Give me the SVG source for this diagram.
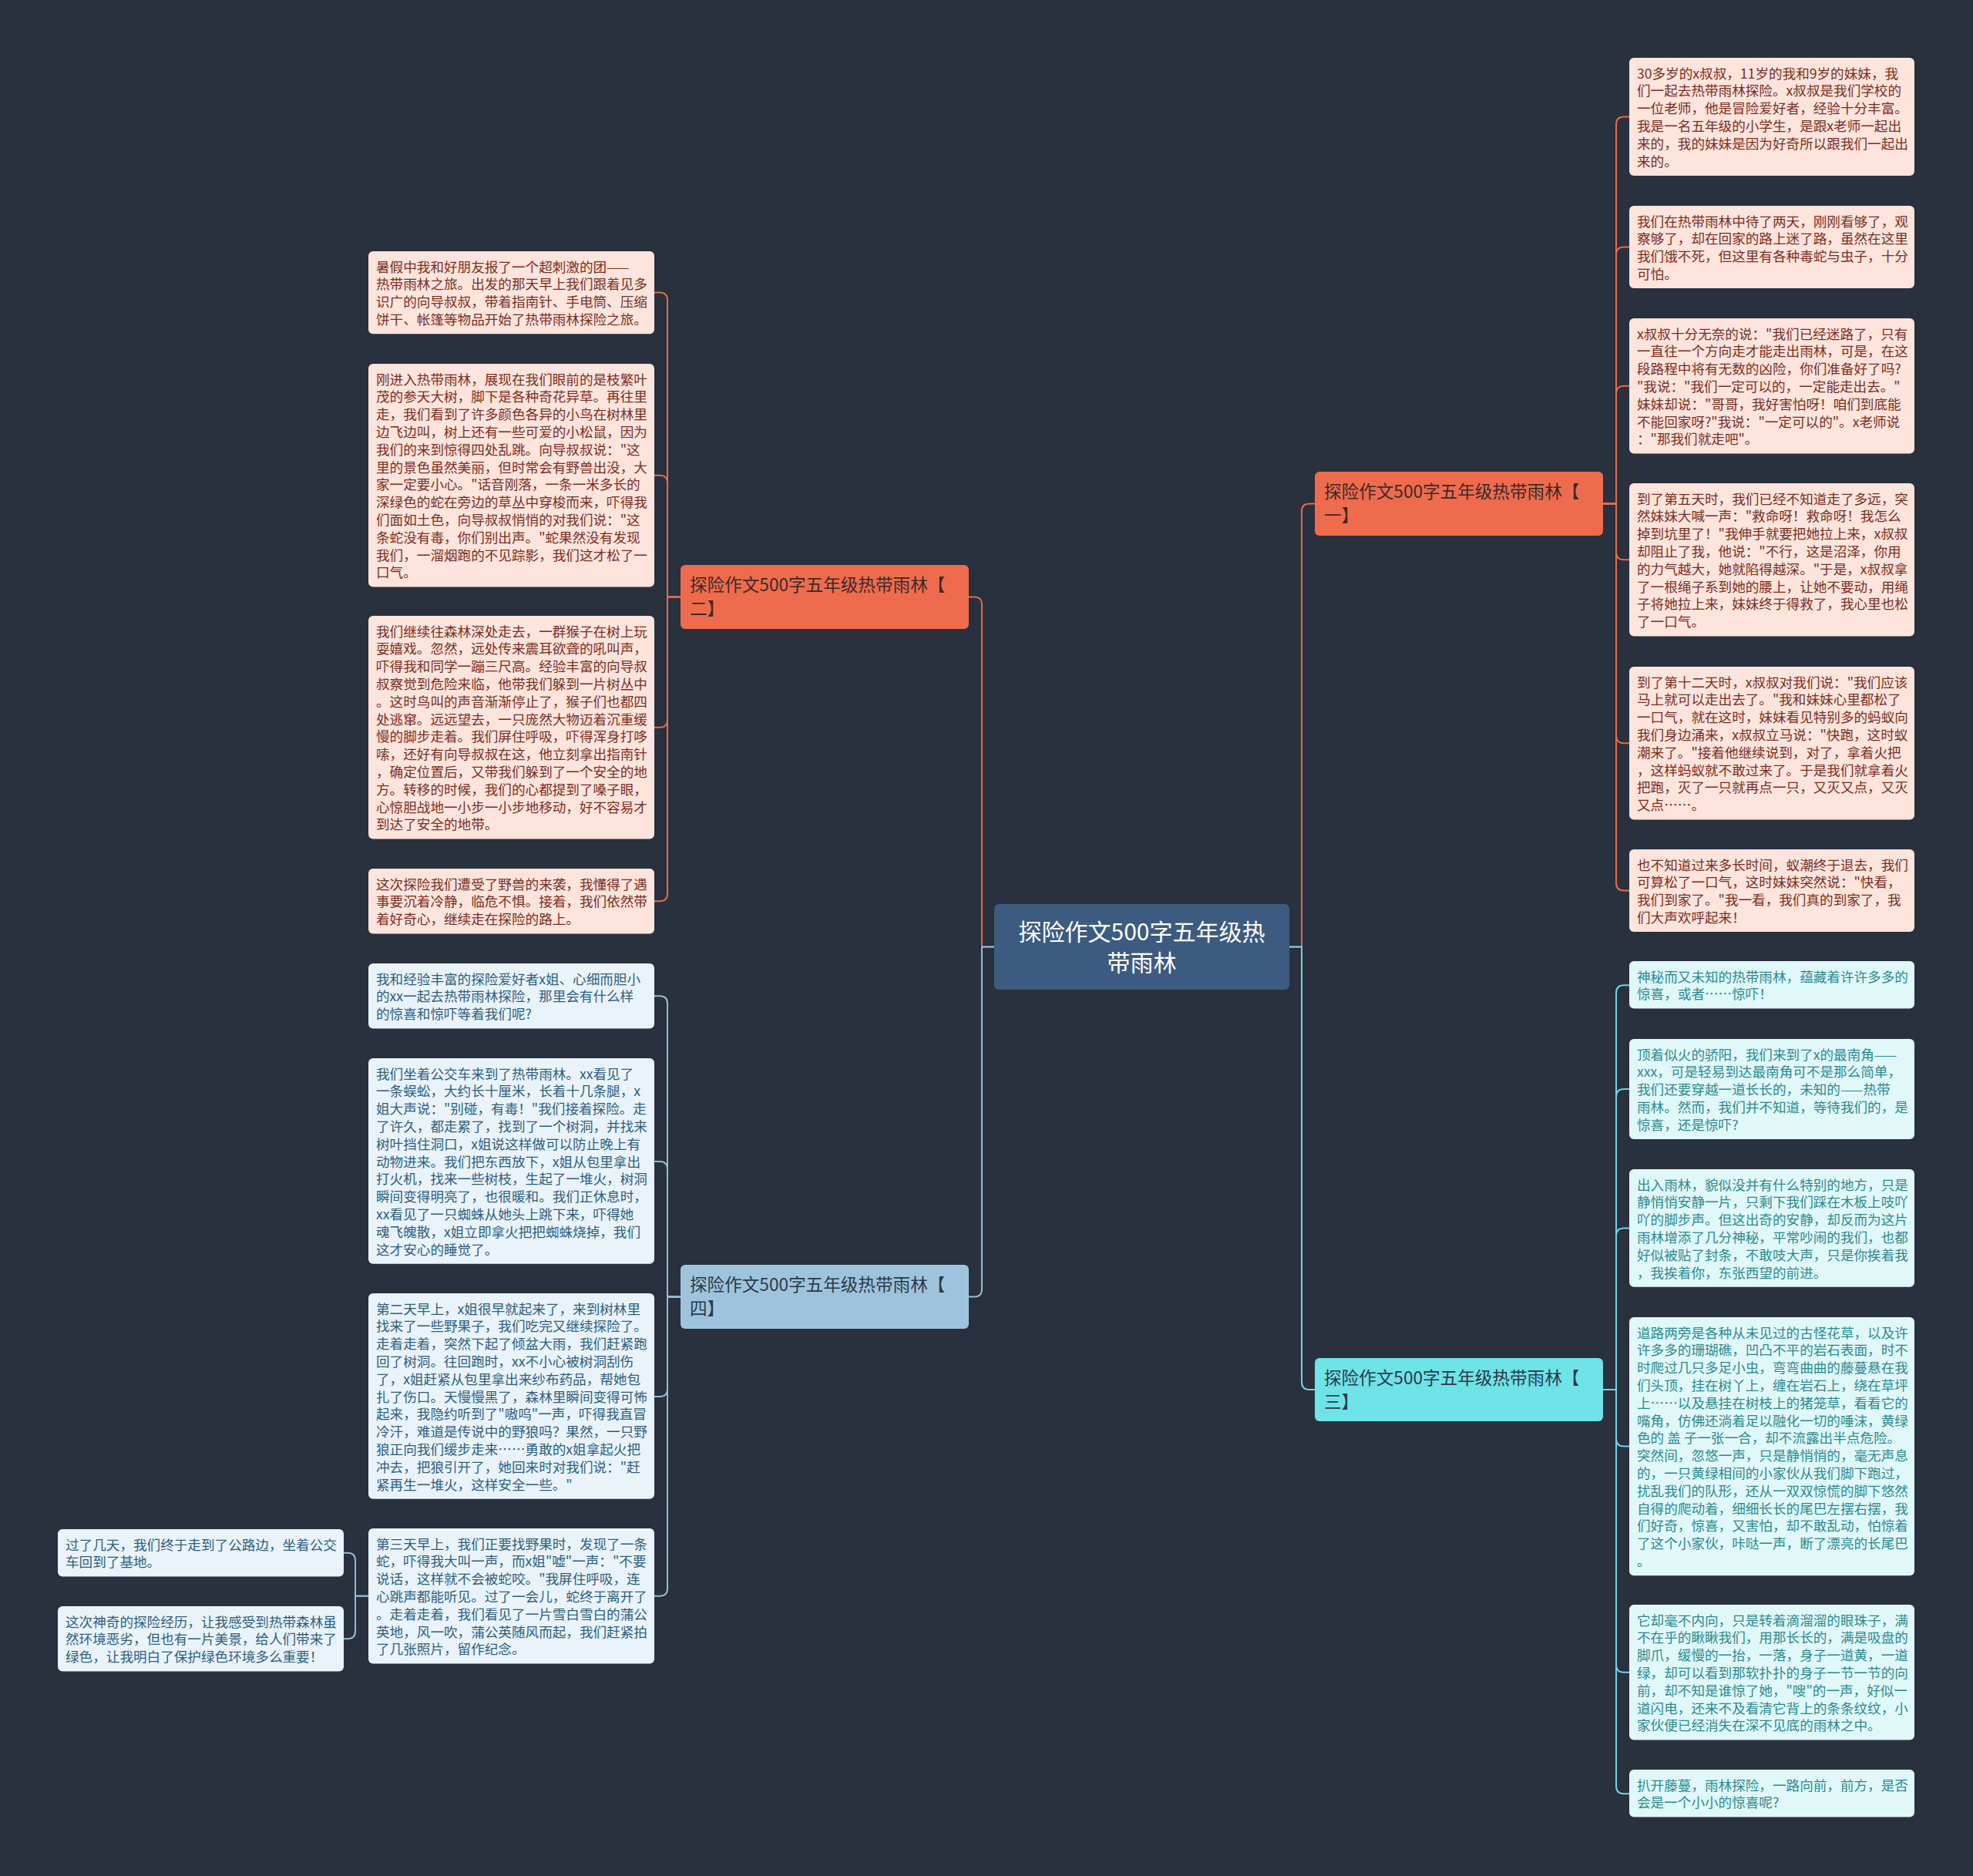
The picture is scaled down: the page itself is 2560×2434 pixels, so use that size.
<svg xmlns="http://www.w3.org/2000/svg" width="2560" height="2434" viewBox="0 0 2560 2434">
<style>
text{font-family:"Noto Sans CJK SC","Noto Sans",sans-serif}
.lt{font-size:17.6px}
.rl rect{fill:#fde4dc}
.rl text{fill:#7a2e22}
.cl rect{fill:#e1f8f9}
.cl text{fill:#2a8a8f}
.bl rect{fill:#e9f3f9}
.bl text{fill:#2d5f7f}
.br text{font-size:22.6px}
.c path{fill:none;stroke-width:2}
.co path{stroke:#e8694b}
.cc path{stroke:#6dd6df}
.cb path{stroke:#93bcd6}
</style>
<rect width="2560" height="2434" fill="#29303e"/>
<g id="connectors" class="c">
<g class="co">
<path d="M1290 1228.5H1274V784.5Q1274 774.5 1264 774.5H1257"/>
<path d="M1673 1228.5H1689V663.5Q1689 653.5 1699 653.5H1706"/>
<path d="M2080 653.5H2097V161.5Q2097 151.5 2107 151.5H2114"/>
<path d="M2080 653.5H2097V330.5Q2097 320.5 2107 320.5H2114"/>
<path d="M2080 653.5H2097V510.8Q2097 500.8 2107 500.8H2114"/>
<path d="M2080 653.5H2097V716.2Q2097 726.2 2107 726.2H2114"/>
<path d="M2080 653.5H2097V954.2Q2097 964.2 2107 964.2H2114"/>
<path d="M2080 653.5H2097V1145.5Q2097 1155.5 2107 1155.5H2114"/>
<path d="M883 774.5H866V389.5Q866 379.5 856 379.5H849"/>
<path d="M883 774.5H866V626.8Q866 616.8 856 616.8H849"/>
<path d="M883 774.5H866V933.8Q866 943.8 856 943.8H849"/>
<path d="M883 774.5H866V1159.2Q866 1169.2 856 1169.2H849"/>
</g>
<g class="cc">
<path d="M1673 1228.5H1689V1793Q1689 1803 1699 1803H1706"/>
<path d="M2080 1803H2097V1288.3Q2097 1278.3 2107 1278.3H2114"/>
<path d="M2080 1803H2097V1423Q2097 1413 2107 1413H2114"/>
<path d="M2080 1803H2097V1603.4Q2097 1593.4 2107 1593.4H2114"/>
<path d="M2080 1803H2097V1866.6Q2097 1876.6 2107 1876.6H2114"/>
<path d="M2080 1803H2097V2159.8Q2097 2169.8 2107 2169.8H2114"/>
<path d="M2080 1803H2097V2317.3Q2097 2327.3 2107 2327.3H2114"/>
</g>
<g class="cb">
<path d="M1290 1228.5H1274V1672.5Q1274 1682.5 1264 1682.5H1257"/>
<path d="M883 1682.5H866V1302.2Q866 1292.2 856 1292.2H849"/>
<path d="M883 1682.5H866V1516.9Q866 1506.9 856 1506.9H849"/>
<path d="M883 1682.5H866V1801.9Q866 1811.9 856 1811.9H849"/>
<path d="M883 1682.5H866V2060.8Q866 2070.8 856 2070.8H849"/>
<path d="M478 2070.8H461V2024.8Q461 2014.8 451 2014.8H446"/>
<path d="M478 2070.8H461V2116.2Q461 2126.2 451 2126.2H446"/>
</g>
</g>

<g id="root">
<rect x="1290" y="1173" width="383" height="111" rx="6" fill="#3d5b80"/>
<text x="1481.5" y="1220" font-size="30" fill="#ffffff" text-anchor="middle">探险作文500字五年级热<tspan x="1481.5" dy="40">带雨林</tspan></text>
</g>

<g id="branch1" class="br">
<rect x="1706" y="612" width="374" height="83" rx="6" fill="#ef6b4d"/>
<text x="1718" y="646" fill="#3b2a28">探险作文500字五年级热带雨林【<tspan x="1718" dy="31">一】</tspan></text>
</g>
<g id="branch2" class="br">
<rect x="883" y="733" width="374" height="83" rx="6" fill="#ef6b4d"/>
<text x="895" y="767" fill="#3b2a28">探险作文500字五年级热带雨林【<tspan x="895" dy="31">二】</tspan></text>
</g>
<g id="branch3" class="br">
<rect x="1706" y="1762" width="374" height="82" rx="6" fill="#6ee3e8"/>
<text x="1718" y="1796" fill="#2b3a48">探险作文500字五年级热带雨林【<tspan x="1718" dy="31">三】</tspan></text>
</g>
<g id="branch4" class="br">
<rect x="883" y="1641" width="374" height="83" rx="6" fill="#9ec4dd"/>
<text x="895" y="1675" fill="#2b3a48">探险作文500字五年级热带雨林【<tspan x="895" dy="31">四】</tspan></text>
</g>

<g id="r1" class="rl">
<rect x="2114" y="75" width="370" height="153" rx="6"/>
<text class="lt" x="2124" y="101.5">30多岁的x叔叔，11岁的我和9岁的妹妹，我<tspan x="2124" dy="22.8">们一起去热带雨林探险。x叔叔是我们学校的</tspan><tspan x="2124" dy="22.8">一位老师，他是冒险爱好者，经验十分丰富。</tspan><tspan x="2124" dy="22.8">我是一名五年级的小学生，是跟x老师一起出</tspan><tspan x="2124" dy="22.8">来的，我的妹妹是因为好奇所以跟我们一起出</tspan><tspan x="2124" dy="22.8">来的。</tspan></text>
</g>
<g id="r2" class="rl">
<rect x="2114" y="267" width="370" height="107" rx="6"/>
<text class="lt" x="2124" y="293.5">我们在热带雨林中待了两天，刚刚看够了，观<tspan x="2124" dy="22.8">察够了，却在回家的路上迷了路，虽然在这里</tspan><tspan x="2124" dy="22.8">我们饿不死，但这里有各种毒蛇与虫子，十分</tspan><tspan x="2124" dy="22.8">可怕。</tspan></text>
</g>
<g id="r3" class="rl">
<rect x="2114" y="413" width="370" height="175.6" rx="6"/>
<text class="lt" x="2124" y="439.5">x叔叔十分无奈的说："我们已经迷路了，只有<tspan x="2124" dy="22.8">一直往一个方向走才能走出雨林，可是，在这</tspan><tspan x="2124" dy="22.8">段路程中将有无数的凶险，你们准备好了吗?</tspan><tspan x="2124" dy="22.8">"我说："我们一定可以的，一定能走出去。"</tspan><tspan x="2124" dy="22.8">妹妹却说："哥哥，我好害怕呀！咱们到底能</tspan><tspan x="2124" dy="22.8">不能回家呀?"我说："一定可以的"。x老师说</tspan><tspan x="2124" dy="22.8">："那我们就走吧"。</tspan></text>
</g>
<g id="r4" class="rl">
<rect x="2114" y="627" width="370" height="198.4" rx="6"/>
<text class="lt" x="2124" y="653.5">到了第五天时，我们已经不知道走了多远，突<tspan x="2124" dy="22.8">然妹妹大喊一声："救命呀！救命呀！我怎么</tspan><tspan x="2124" dy="22.8">掉到坑里了！"我伸手就要把她拉上来，x叔叔</tspan><tspan x="2124" dy="22.8">却阻止了我，他说："不行，这是沼泽，你用</tspan><tspan x="2124" dy="22.8">的力气越大，她就陷得越深。"于是，x叔叔拿</tspan><tspan x="2124" dy="22.8">了一根绳子系到她的腰上，让她不要动，用绳</tspan><tspan x="2124" dy="22.8">子将她拉上来，妹妹终于得救了，我心里也松</tspan><tspan x="2124" dy="22.8">了一口气。</tspan></text>
</g>
<g id="r5" class="rl">
<rect x="2114" y="865" width="370" height="198.4" rx="6"/>
<text class="lt" x="2124" y="891.5">到了第十二天时，x叔叔对我们说："我们应该<tspan x="2124" dy="22.8">马上就可以走出去了。"我和妹妹心里都松了</tspan><tspan x="2124" dy="22.8">一口气，就在这时，妹妹看见特别多的蚂蚁向</tspan><tspan x="2124" dy="22.8">我们身边涌来，x叔叔立马说："快跑，这时蚁</tspan><tspan x="2124" dy="22.8">潮来了。"接着他继续说到，对了，拿着火把</tspan><tspan x="2124" dy="22.8">，这样蚂蚁就不敢过来了。于是我们就拿着火</tspan><tspan x="2124" dy="22.8">把跑，灭了一只就再点一只，又灭又点，又灭</tspan><tspan x="2124" dy="22.8">又点……。</tspan></text>
</g>
<g id="r6" class="rl">
<rect x="2114" y="1102" width="370" height="107" rx="6"/>
<text class="lt" x="2124" y="1128.5">也不知道过来多长时间，蚁潮终于退去，我们<tspan x="2124" dy="22.8">可算松了一口气，这时妹妹突然说："快看，</tspan><tspan x="2124" dy="22.8">我们到家了。"我一看，我们真的到家了，我</tspan><tspan x="2124" dy="22.8">们大声欢呼起来！</tspan></text>
</g>

<g id="c1" class="cl">
<rect x="2114" y="1247" width="370" height="61.6" rx="6"/>
<text class="lt" x="2124" y="1273.5">神秘而又未知的热带雨林，蕴藏着许许多多的<tspan x="2124" dy="22.8">惊喜，或者……惊吓！</tspan></text>
</g>
<g id="c2" class="cl">
<rect x="2114" y="1348" width="370" height="130" rx="6"/>
<text class="lt" x="2124" y="1374.5">顶着似火的骄阳，我们来到了x的最南角——<tspan x="2124" dy="22.8">xxx，可是轻易到达最南角可不是那么简单，</tspan><tspan x="2124" dy="22.8">我们还要穿越一道长长的，未知的——热带</tspan><tspan x="2124" dy="22.8">雨林。然而，我们并不知道，等待我们的，是</tspan><tspan x="2124" dy="22.8">惊喜，还是惊吓?</tspan></text>
</g>
<g id="c3" class="cl">
<rect x="2114" y="1517" width="370" height="152.8" rx="6"/>
<text class="lt" x="2124" y="1543.5">出入雨林，貌似没并有什么特别的地方，只是<tspan x="2124" dy="22.8">静悄悄安静一片，只剩下我们踩在木板上吱吖</tspan><tspan x="2124" dy="22.8">吖的脚步声。但这出奇的安静，却反而为这片</tspan><tspan x="2124" dy="22.8">雨林增添了几分神秘，平常吵闹的我们，也都</tspan><tspan x="2124" dy="22.8">好似被贴了封条，不敢吱大声，只是你挨着我</tspan><tspan x="2124" dy="22.8">，我挨着你，东张西望的前进。</tspan></text>
</g>
<g id="c4" class="cl">
<rect x="2114" y="1709" width="370" height="335.2" rx="6"/>
<text class="lt" x="2124" y="1735.5">道路两旁是各种从未见过的古怪花草，以及许<tspan x="2124" dy="22.8">许多多的珊瑚礁，凹凸不平的岩石表面，时不</tspan><tspan x="2124" dy="22.8">时爬过几只多足小虫，弯弯曲曲的藤蔓悬在我</tspan><tspan x="2124" dy="22.8">们头顶，挂在树丫上，缠在岩石上，绕在草坪</tspan><tspan x="2124" dy="22.8">上……以及悬挂在树枝上的猪笼草，看看它的</tspan><tspan x="2124" dy="22.8">嘴角，仿佛还淌着足以融化一切的唾沫，黄绿</tspan><tspan x="2124" dy="22.8">色的 盖 子一张一合，却不流露出半点危险。</tspan><tspan x="2124" dy="22.8">突然间，忽悠一声，只是静悄悄的，毫无声息</tspan><tspan x="2124" dy="22.8">的，一只黄绿相间的小家伙从我们脚下跑过，</tspan><tspan x="2124" dy="22.8">扰乱我们的队形，还从一双双惊慌的脚下悠然</tspan><tspan x="2124" dy="22.8">自得的爬动着，细细长长的尾巴左摆右摆，我</tspan><tspan x="2124" dy="22.8">们好奇，惊喜，又害怕，却不敢乱动，怕惊着</tspan><tspan x="2124" dy="22.8">了这个小家伙，咔哒一声，断了漂亮的长尾巴</tspan><tspan x="2124" dy="22.8">。</tspan></text>
</g>
<g id="c5" class="cl">
<rect x="2114" y="2082" width="370" height="175.6" rx="6"/>
<text class="lt" x="2124" y="2108.5">它却毫不内向，只是转着滴溜溜的眼珠子，满<tspan x="2124" dy="22.8">不在乎的瞅瞅我们，用那长长的，满是吸盘的</tspan><tspan x="2124" dy="22.8">脚爪，缓慢的一抬，一落，身子一道黄，一道</tspan><tspan x="2124" dy="22.8">绿，却可以看到那软扑扑的身子一节一节的向</tspan><tspan x="2124" dy="22.8">前，却不知是谁惊了她，"嗖"的一声，好似一</tspan><tspan x="2124" dy="22.8">道闪电，还来不及看清它背上的条条纹纹，小</tspan><tspan x="2124" dy="22.8">家伙便已经消失在深不见底的雨林之中。</tspan></text>
</g>
<g id="c6" class="cl">
<rect x="2114" y="2296" width="370" height="61.6" rx="6"/>
<text class="lt" x="2124" y="2322.5">扒开藤蔓，雨林探险，一路向前，前方，是否<tspan x="2124" dy="22.8">会是一个小小的惊喜呢?</tspan></text>
</g>

<g id="l1" class="rl">
<rect x="478" y="326" width="371" height="107.2" rx="6"/>
<text class="lt" x="488" y="352.5">暑假中我和好朋友报了一个超刺激的团——<tspan x="488" dy="22.8">热带雨林之旅。出发的那天早上我们跟着见多</tspan><tspan x="488" dy="22.8">识广的向导叔叔，带着指南针、手电筒、压缩</tspan><tspan x="488" dy="22.8">饼干、帐篷等物品开始了热带雨林探险之旅。</tspan></text>
</g>
<g id="l2" class="rl">
<rect x="478" y="472" width="371" height="289.6" rx="6"/>
<text class="lt" x="488" y="498.5">刚进入热带雨林，展现在我们眼前的是枝繁叶<tspan x="488" dy="22.8">茂的参天大树，脚下是各种奇花异草。再往里</tspan><tspan x="488" dy="22.8">走，我们看到了许多颜色各异的小鸟在树林里</tspan><tspan x="488" dy="22.8">边飞边叫，树上还有一些可爱的小松鼠，因为</tspan><tspan x="488" dy="22.8">我们的来到惊得四处乱跳。向导叔叔说："这</tspan><tspan x="488" dy="22.8">里的景色虽然美丽，但时常会有野兽出没，大</tspan><tspan x="488" dy="22.8">家一定要小心。"话音刚落，一条一米多长的</tspan><tspan x="488" dy="22.8">深绿色的蛇在旁边的草丛中穿梭而来，吓得我</tspan><tspan x="488" dy="22.8">们面如土色，向导叔叔悄悄的对我们说："这</tspan><tspan x="488" dy="22.8">条蛇没有毒，你们别出声。"蛇果然没有发现</tspan><tspan x="488" dy="22.8">我们，一溜烟跑的不见踪影，我们这才松了一</tspan><tspan x="488" dy="22.8">口气。</tspan></text>
</g>
<g id="l3" class="rl">
<rect x="478" y="799" width="371" height="289.6" rx="6"/>
<text class="lt" x="488" y="825.5">我们继续往森林深处走去，一群猴子在树上玩<tspan x="488" dy="22.8">耍嬉戏。忽然，远处传来震耳欲聋的吼叫声，</tspan><tspan x="488" dy="22.8">吓得我和同学一蹦三尺高。经验丰富的向导叔</tspan><tspan x="488" dy="22.8">叔察觉到危险来临，他带我们躲到一片树丛中</tspan><tspan x="488" dy="22.8">。这时鸟叫的声音渐渐停止了，猴子们也都四</tspan><tspan x="488" dy="22.8">处逃窜。远远望去，一只庞然大物迈着沉重缓</tspan><tspan x="488" dy="22.8">慢的脚步走着。我们屏住呼吸，吓得浑身打哆</tspan><tspan x="488" dy="22.8">嗦，还好有向导叔叔在这，他立刻拿出指南针</tspan><tspan x="488" dy="22.8">，确定位置后，又带我们躲到了一个安全的地</tspan><tspan x="488" dy="22.8">方。转移的时候，我们的心都提到了嗓子眼，</tspan><tspan x="488" dy="22.8">心惊胆战地一小步一小步地移动，好不容易才</tspan><tspan x="488" dy="22.8">到达了安全的地带。</tspan></text>
</g>
<g id="l4" class="rl">
<rect x="478" y="1127" width="371" height="84.4" rx="6"/>
<text class="lt" x="488" y="1153.5">这次探险我们遭受了野兽的来袭，我懂得了遇<tspan x="488" dy="22.8">事要沉着冷静，临危不惧。接着，我们依然带</tspan><tspan x="488" dy="22.8">着好奇心，继续走在探险的路上。</tspan></text>
</g>

<g id="b1" class="bl">
<rect x="478" y="1250" width="371" height="84.4" rx="6"/>
<text class="lt" x="488" y="1276.5">我和经验丰富的探险爱好者x姐、心细而胆小<tspan x="488" dy="22.8">的xx一起去热带雨林探险，那里会有什么样</tspan><tspan x="488" dy="22.8">的惊喜和惊吓等着我们呢?</tspan></text>
</g>
<g id="b2" class="bl">
<rect x="478" y="1373" width="371" height="266.8" rx="6"/>
<text class="lt" x="488" y="1399.5">我们坐着公交车来到了热带雨林。xx看见了<tspan x="488" dy="22.8">一条蜈蚣，大约长十厘米，长着十几条腿，x</tspan><tspan x="488" dy="22.8">姐大声说："别碰，有毒！"我们接着探险。走</tspan><tspan x="488" dy="22.8">了许久，都走累了，找到了一个树洞，并找来</tspan><tspan x="488" dy="22.8">树叶挡住洞口，x姐说这样做可以防止晚上有</tspan><tspan x="488" dy="22.8">动物进来。我们把东西放下，x姐从包里拿出</tspan><tspan x="488" dy="22.8">打火机，找来一些树枝，生起了一堆火，树洞</tspan><tspan x="488" dy="22.8">瞬间变得明亮了，也很暖和。我们正休息时，</tspan><tspan x="488" dy="22.8">xx看见了一只蜘蛛从她头上跳下来，吓得她</tspan><tspan x="488" dy="22.8">魂飞魄散，x姐立即拿火把把蜘蛛烧掉，我们</tspan><tspan x="488" dy="22.8">这才安心的睡觉了。</tspan></text>
</g>
<g id="b3" class="bl">
<rect x="478" y="1678" width="371" height="266.8" rx="6"/>
<text class="lt" x="488" y="1704.5">第二天早上，x姐很早就起来了，来到树林里<tspan x="488" dy="22.8">找来了一些野果子，我们吃完又继续探险了。</tspan><tspan x="488" dy="22.8">走着走着，突然下起了倾盆大雨，我们赶紧跑</tspan><tspan x="488" dy="22.8">回了树洞。往回跑时，xx不小心被树洞刮伤</tspan><tspan x="488" dy="22.8">了，x姐赶紧从包里拿出来纱布药品，帮她包</tspan><tspan x="488" dy="22.8">扎了伤口。天慢慢黑了，森林里瞬间变得可怖</tspan><tspan x="488" dy="22.8">起来，我隐约听到了"嗷呜"一声，吓得我直冒</tspan><tspan x="488" dy="22.8">冷汗，难道是传说中的野狼吗？果然，一只野</tspan><tspan x="488" dy="22.8">狼正向我们缓步走来……勇敢的x姐拿起火把</tspan><tspan x="488" dy="22.8">冲去，把狼引开了，她回来时对我们说："赶</tspan><tspan x="488" dy="22.8">紧再生一堆火，这样安全一些。"</tspan></text>
</g>
<g id="b4" class="bl">
<rect x="478" y="1983" width="371" height="175.6" rx="6"/>
<text class="lt" x="488" y="2009.5">第三天早上，我们正要找野果时，发现了一条<tspan x="488" dy="22.8">蛇，吓得我大叫一声，而x姐"嘘"一声："不要</tspan><tspan x="488" dy="22.8">说话，这样就不会被蛇咬。"我屏住呼吸，连</tspan><tspan x="488" dy="22.8">心跳声都能听见。过了一会儿，蛇终于离开了</tspan><tspan x="488" dy="22.8">。走着走着，我们看见了一片雪白雪白的蒲公</tspan><tspan x="488" dy="22.8">英地，风一吹，蒲公英随风而起，我们赶紧拍</tspan><tspan x="488" dy="22.8">了几张照片，留作纪念。</tspan></text>
</g>
<g id="b5" class="bl">
<rect x="75" y="1984" width="371" height="61.6" rx="6"/>
<text class="lt" x="85" y="2010.5">过了几天，我们终于走到了公路边，坐着公交<tspan x="85" dy="22.8">车回到了基地。</tspan></text>
</g>
<g id="b6" class="bl">
<rect x="75" y="2084" width="371" height="84.4" rx="6"/>
<text class="lt" x="85" y="2110.5">这次神奇的探险经历，让我感受到热带森林虽<tspan x="85" dy="22.8">然环境恶劣，但也有一片美景，给人们带来了</tspan><tspan x="85" dy="22.8">绿色，让我明白了保护绿色环境多么重要！</tspan></text>
</g>
</svg>
